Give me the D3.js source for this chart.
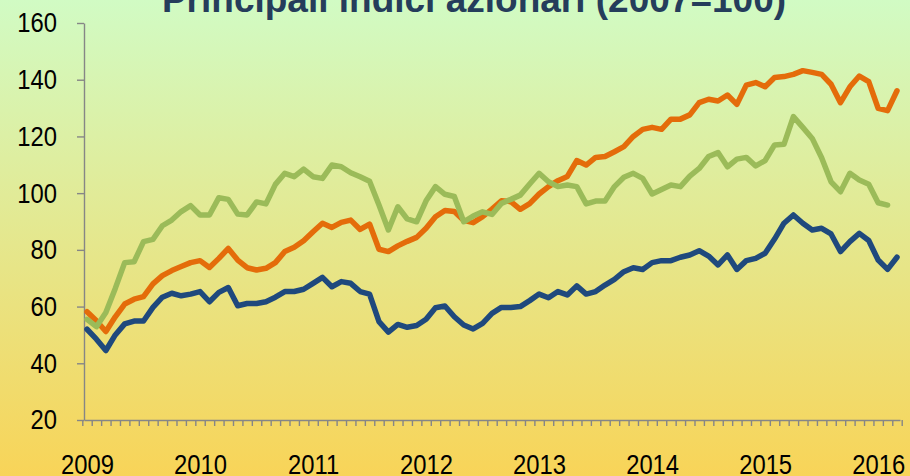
<!DOCTYPE html>
<html>
<head>
<meta charset="utf-8">
<script src="https://cdn.jsdelivr.net/npm/d3@7/dist/d3.min.js"></script>
<style>
  html, body { margin: 0; padding: 0; }
  body { width: 910px; height: 476px; overflow: hidden; }
  .tick text { font-family: "Liberation Sans", Arial, sans-serif; fill: #000; }
</style>
</head>
<body>
<svg id="chart" width="910" height="476"></svg>
<script>
// Monthly data, Jan 2009 - Mar 2016 (index 2007=100)
const yearLabels = ['2009', '2010', '2011', '2012', '2013', '2014', '2015', '2016'];
const yTicks = [20, 40, 60, 80, 100, 120, 140, 160];

const seriesBlue = [
  52.0, 48.5, 44.5, 50.0, 53.9, 54.9, 54.9, 59.7, 63.3, 64.7, 63.8, 64.4,
  65.3, 61.7, 65.0, 66.7, 60.3, 61.1, 61.1, 61.7, 63.3, 65.3, 65.3, 66.1,
  68.2, 70.3, 67.0, 68.8, 68.2, 65.3, 64.4, 54.7, 51.0, 53.7, 52.7, 53.3,
  55.5, 59.6, 60.2, 56.4, 53.5, 52.1, 54.1, 57.6, 59.7, 59.7, 60.0, 62.1,
  64.4, 63.1, 65.3, 64.1, 67.3, 64.4, 65.3, 67.6, 69.6, 72.3, 73.7, 73.1,
  75.5, 76.2, 76.2, 77.4, 78.2, 79.7, 77.8, 74.7, 78.2, 73.1, 76.2, 77.0,
  78.8, 83.8, 89.4, 92.3, 89.4, 87.0, 87.6, 85.6, 79.4, 82.9, 85.8, 83.3,
  76.4, 73.1, 77.4
];

const seriesOrange = [
  58.2, 55.0, 51.2, 56.4, 60.9, 62.6, 63.5, 68.0, 70.9, 72.7, 74.1, 75.5,
  76.2, 73.8, 77.0, 80.5, 76.4, 73.7, 72.9, 73.5, 75.5, 79.4, 80.9, 83.2,
  86.4, 89.4, 87.9, 89.7, 90.5, 87.2, 89.1, 80.2, 79.4, 81.4, 83.0, 84.4,
  87.6, 91.7, 93.9, 93.5, 90.4, 89.6, 91.7, 94.4, 97.3, 97.0, 94.3, 96.3,
  99.7, 102.3, 104.4, 105.9, 111.5, 109.9, 112.6, 112.9, 114.6, 116.4, 120.0, 122.5,
  123.2, 122.5, 126.1, 126.1, 127.6, 131.9, 133.1, 132.5, 134.6, 131.3, 138.1, 139.0,
  137.5, 140.8, 141.1, 141.9, 143.2, 142.6, 141.9, 138.4, 131.9, 137.5, 141.3, 139.3,
  129.9, 129.1, 136.1
];

const seriesGreen = [
  55.5, 52.9, 57.9, 66.4, 75.5, 75.8, 82.9, 83.7, 88.5, 90.5, 93.5, 95.6,
  92.3, 92.3, 98.4, 97.8, 92.6, 92.3, 96.9, 96.2, 103.1, 107.0, 105.8, 108.5,
  105.8, 105.2, 109.9, 109.3, 107.2, 105.8, 104.2, 95.8, 87.0, 95.2, 90.9, 89.9,
  97.3, 102.3, 99.6, 98.8, 89.9, 91.9, 93.4, 92.5, 96.4, 97.8, 99.3, 103.2,
  107.0, 104.0, 102.3, 102.9, 102.3, 96.2, 97.2, 97.2, 102.3, 105.6, 107.0, 105.2,
  99.7, 101.3, 102.9, 102.3, 106.0, 108.7, 112.9, 114.3, 109.3, 112.0, 112.6, 109.6,
  111.5, 117.0, 117.2, 127.0, 123.2, 119.3, 112.5, 104.0, 100.5, 107.0, 104.6, 103.1,
  96.6, 95.8
];

const series = [
  { name: 'blue', values: seriesBlue, color: '#1f497d' },
  { name: 'orange', values: seriesOrange, color: '#e46c0a' },
  { name: 'green', values: seriesGreen, color: '#9bbb59' }
];

const width = 910;
const height = 476;
const nMonths = seriesOrange.length;
const margin = { left: 84, right: 10, top: 23, bottom: 56 };

const svg = d3.select('#chart');

// background gradient
const defs = svg.append('defs');
const grad = defs.append('linearGradient')
  .attr('id', 'bg')
  .attr('x1', 0).attr('y1', 0).attr('x2', 0).attr('y2', 1);
grad.append('stop').attr('offset', '0%').attr('stop-color', '#d1fbc4');
grad.append('stop').attr('offset', '100%').attr('stop-color', '#f8d458');
svg.append('rect')
  .attr('width', width).attr('height', height)
  .attr('fill', 'url(#bg)');

// scales
const x = d3.scaleLinear()
  .domain([-0.32, nMonths - 1 + 0.32])
  .range([margin.left, width - margin.right]);

const y = d3.scaleLinear()
  .domain([20, 160])
  .range([height - margin.bottom, margin.top]);

// title (cut at the top edge)
svg.append('text')
  .attr('x', 474)
  .attr('y', 12)
  .attr('text-anchor', 'middle')
  .attr('font-family', '"Liberation Sans", Arial, sans-serif')
  .attr('font-weight', 'bold')
  .attr('font-size', 37)
  .attr('fill', '#253d5b')
  .text('Principali indici azionari (2007=100)');

// y axis
svg.append('g')
  .attr('transform', `translate(${margin.left},0)`)
  .call(d3.axisLeft(y).tickValues(yTicks).tickSize(7).tickPadding(20).tickSizeOuter(0));

// x axis: monthly minor ticks
const monthTicks = d3.range(nMonths + 1).map(i => i - 0.5);
svg.append('g')
  .attr('transform', `translate(0,${y(20)})`)
  .call(d3.axisBottom(x).tickValues(monthTicks).tickSize(6).tickFormat('').tickSizeOuter(0));

// x axis: year labels
const yearIdx = yearLabels.map((d, i) => i * 12);
const xLabels = svg.append('g')
  .attr('transform', `translate(0,${y(20)})`)
  .call(d3.axisBottom(x).tickValues(yearIdx).tickSize(0).tickPadding(34)
    .tickFormat((d, i) => yearLabels[i]));
xLabels.select('.domain').remove();

svg.selectAll('.domain, .tick line')
  .attr('stroke', '#868686')
  .attr('stroke-width', 1.4);

// narrow-looking tick labels: squeeze glyphs horizontally, keep anchor position
const squeeze = 0.85;
svg.selectAll('.tick text')
  .attr('font-size', 28)
  .each(function() {
    const t = d3.select(this);
    const w = this.getComputedTextLength();
    if (!w) return;
    const anchor = t.attr('text-anchor') || this.parentNode.parentNode.getAttribute('text-anchor');
    const x0 = +(t.attr('x') || 0);
    const nw = w * squeeze;
    const start = anchor === 'end' ? x0 - nw : anchor === 'middle' ? x0 - nw / 2 : x0;
    t.attr('text-anchor', 'start')
      .attr('x', start)
      .attr('textLength', nw)
      .attr('lengthAdjust', 'spacingAndGlyphs');
  });

// lines
const line = d3.line()
  .x((d, i) => x(i))
  .y(d => y(d));

svg.append('g')
  .selectAll('path')
  .data(series)
  .join('path')
  .attr('d', d => line(d.values))
  .attr('fill', 'none')
  .attr('stroke', d => d.color)
  .attr('stroke-width', 5.5)
  .attr('stroke-linejoin', 'round')
  .attr('stroke-linecap', 'round');
</script>
</body>
</html>
